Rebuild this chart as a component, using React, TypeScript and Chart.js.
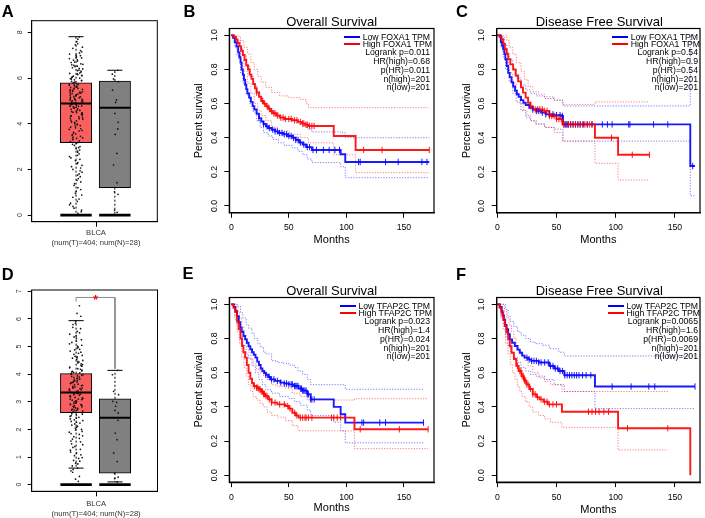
import React, { useEffect, useRef } from "react";
import { Chart, registerables } from "chart.js";

Chart.register(...registerables);

const FONT = '"Liberation Sans", Arial, Helvetica, sans-serif';
const W = 705;
const H = 518;

type Pt = [number, number];

// ================= Box plots (A: FOXA1, D: TFAP2C) =================
// stats: [lower whisker, Q1, median, Q3, upper whisker]
const A_TUMOR_STATS = [0, 3.17, 4.89, 5.79, 7.81];
const A_NORMAL_STATS = [0, 1.2, 4.7, 5.87, 6.34];
const D_TUMOR_STATS = [0.6, 2.61, 3.34, 4.02, 5.94];
const D_NORMAL_STATS = [0.1, 0.42, 2.42, 3.11, 4.14];

const A_TUMOR_POINTS = [
  7.8, 7.6, 7.45, 7.3, 7.2, 7.1, 7.0, 6.95, 6.9, 6.85, 6.8, 6.75, 6.7, 6.62, 6.55, 6.5, 6.45, 6.4, 6.35, 6.3,
  6.25, 6.2, 6.15, 6.1, 6.05, 6.0, 5.95, 5.9, 5.85, 5.8, 5.75, 5.7, 5.66, 5.62, 5.58, 5.55, 5.5, 5.46, 5.42,
  5.38, 5.34, 5.3, 5.26, 5.22, 5.18, 5.14, 5.1, 5.06, 5.02, 4.98, 4.94, 4.9, 4.86, 4.82, 4.78, 4.74, 4.7,
  4.65, 4.6, 4.55, 4.5, 4.45, 4.4, 4.35, 4.3, 4.25, 4.2, 4.12, 4.05, 3.98, 3.9, 3.82, 3.75, 3.68, 3.6, 3.52,
  3.45, 3.38, 3.3, 3.22, 3.15, 3.05, 2.95, 2.85, 2.75, 2.62, 2.5, 2.38, 2.25, 2.12, 2.0, 1.88, 1.75, 1.6,
  1.45, 1.3, 1.12, 0.95, 0.78, 0.6, 0.45, 0.3, 0.15, 6.58, 6.12, 5.72, 5.36, 5.04, 4.76, 4.48, 3.96, 3.36,
  7.7, 7.5, 7.35, 7.15, 7.05, 6.98, 6.88, 6.78, 6.68, 6.6, 6.52, 6.42, 6.32, 6.22, 6.18, 6.08, 6.02, 5.98,
  5.92, 5.88, 5.82, 5.78, 5.73, 5.68, 5.64, 5.6, 5.56, 5.52, 5.48, 5.44, 5.4, 5.36, 5.32, 5.28, 5.24, 5.2,
  5.16, 5.12, 5.08, 5.04, 5.0, 4.96, 4.92, 4.88, 4.84, 4.8, 4.76, 4.72, 4.68, 4.63, 4.58, 4.53, 4.48, 4.43,
  4.38, 4.33, 4.28, 4.22, 4.16, 4.08, 4.0, 3.92, 3.85, 3.78, 3.7, 3.62, 3.55, 3.48, 3.4, 3.32, 3.25, 3.18,
  3.1, 3.0, 2.9, 2.8, 2.68, 2.56, 2.44, 2.3, 2.18, 2.06, 1.94, 1.8, 1.68, 1.52, 1.38, 1.2, 1.05, 0.88, 0.7,
  0.52, 0.38, 0.22, 0.08,
];
const A_NORMAL_POINTS = [6.34, 6.17, 5.96, 5.84, 5.47, 5.04, 4.93, 4.45, 4.06, 3.77, 3.53, 2.7, 2.19, 1.42, 1.02, 0.91, 0.22, 0.12];

const D_TUMOR_POINTS = [
  6.48, 6.2, 5.93, 5.8, 5.65, 5.5, 5.4, 5.3, 5.2, 5.1, 5.02, 4.95, 4.88, 4.8, 4.72, 4.65, 4.58, 4.5, 4.44,
  4.38, 4.32, 4.26, 4.2, 4.15, 4.1, 4.05, 4.0, 3.96, 3.92, 3.88, 3.84, 3.8, 3.76, 3.72, 3.68, 3.64, 3.6,
  3.56, 3.52, 3.48, 3.44, 3.4, 3.36, 3.32, 3.28, 3.24, 3.2, 3.16, 3.12, 3.08, 3.04, 3.0, 2.96, 2.92, 2.88,
  2.84, 2.8, 2.76, 2.72, 2.68, 2.64, 2.6, 2.55, 2.5, 2.44, 2.38, 2.32, 2.26, 2.2, 2.12, 2.05, 1.98, 1.9,
  1.82, 1.74, 1.65, 1.55, 1.45, 1.35, 1.25, 1.15, 1.05, 0.95, 0.85, 0.75, 0.6, 0.5, 0.2, 4.62, 4.08, 3.7,
  3.5, 3.3, 3.1, 2.9, 2.7,
  6.1, 5.85, 5.7, 5.55, 5.45, 5.35, 5.25, 5.15, 5.05, 4.98, 4.9, 4.84, 4.76, 4.68, 4.6, 4.54, 4.47, 4.41,
  4.35, 4.29, 4.23, 4.18, 4.12, 4.07, 4.02, 3.98, 3.94, 3.9, 3.86, 3.82, 3.78, 3.74, 3.7, 3.66, 3.62, 3.58,
  3.54, 3.5, 3.46, 3.42, 3.38, 3.34, 3.3, 3.26, 3.22, 3.18, 3.14, 3.1, 3.06, 3.02, 2.98, 2.94, 2.9, 2.86,
  2.82, 2.78, 2.74, 2.7, 2.66, 2.62, 2.57, 2.52, 2.47, 2.41, 2.35, 2.29, 2.23, 2.16, 2.08, 2.0, 1.93, 1.85,
  1.77, 1.68, 1.58, 1.48, 1.38, 1.28, 1.18, 1.08, 0.98, 0.88, 0.78, 0.68, 0.55, 0.45, 0.3, 0.12,
];
const D_NORMAL_POINTS = [4.14, 3.98, 3.38, 3.26, 3.02, 2.98, 2.84, 2.69, 2.6, 2.33, 1.87, 1.63, 1.15, 0.84, 0.42, 0.27, 0.22, 0.1];

const BOX_LABEL = ["BLCA", "(num(T)=404; num(N)=28)"];
const A_YTICKS = [0, 2, 4, 6, 8];
const D_YTICKS = [0, 1, 2, 3, 4, 5, 6, 7];

// ================= Kaplan-Meier data =================
// B: FOXA1 overall survival
const B_HIGH: Pt[] = [[0,1],[2,0.99],[4,0.975],[5.5,0.955],[7,0.935],[8.5,0.91],[10,0.885],[11.5,0.855],[13,0.825],[14.5,0.8],[16,0.77],[17.5,0.745],[19,0.715],[20.5,0.69],[22,0.665],[24,0.64],[26,0.615],[28,0.6],[30,0.585],[32,0.57],[34,0.555],[36,0.543],[39,0.53],[42,0.518],[46,0.51],[53,0.502],[58,0.493],[61,0.484],[64,0.476],[67,0.469],[89,0.41],[108,0.328],[172,0.328]];
const B_HIGH_UP: Pt[] = [[0,1],[5,0.995],[8,0.97],[11,0.93],[14,0.89],[17,0.84],[20,0.8],[23,0.76],[26,0.725],[30,0.695],[35,0.665],[42,0.645],[50,0.635],[60,0.625],[65,0.6],[67,0.576],[172,0.576]];
const B_HIGH_LO: Pt[] = [[0,1],[3,0.97],[5,0.91],[8,0.85],[11,0.79],[14,0.72],[17,0.66],[20,0.6],[23,0.56],[26,0.53],[30,0.5],[35,0.46],[40,0.44],[50,0.42],[60,0.4],[67,0.37],[89,0.3],[108,0.195],[172,0.195]];
const B_HIGH_CENS = [22,27,29,31,33,35,37,38,40,43,45,47,50,52,55,57,60,62,63,65,66,68,70,72,115,131,172];
const B_LOW: Pt[] = [[0,1],[1.5,0.985],[3,0.96],[4.5,0.935],[6,0.9],[7,0.87],[8,0.84],[9,0.8],[10,0.77],[11,0.74],[12,0.71],[13,0.685],[14,0.66],[15.5,0.635],[17,0.61],[18.5,0.585],[20,0.565],[22,0.54],[24,0.515],[26,0.495],[28,0.48],[30,0.467],[32,0.457],[35,0.447],[38,0.437],[41,0.428],[45,0.42],[49,0.41],[53,0.4],[56,0.387],[59,0.372],[62,0.36],[65,0.345],[70,0.328],[95,0.303],[99,0.258],[172,0.258]];
const B_LOW_UP: Pt[] = [[0,1],[3,0.99],[5,0.97],[8,0.92],[10,0.88],[13,0.82],[16,0.76],[19,0.71],[22,0.67],[25,0.63],[28,0.6],[32,0.57],[36,0.545],[41,0.525],[46,0.51],[53,0.5],[58,0.48],[62,0.465],[66,0.45],[70,0.434],[95,0.43],[99,0.4],[172,0.4]];
const B_LOW_LO: Pt[] = [[0,1],[3,0.93],[5,0.88],[8,0.78],[10,0.72],[13,0.65],[16,0.6],[19,0.55],[22,0.5],[25,0.46],[28,0.43],[32,0.41],[36,0.39],[41,0.37],[46,0.355],[53,0.34],[58,0.32],[62,0.3],[66,0.275],[70,0.254],[95,0.23],[99,0.166],[172,0.166]];
const B_LOW_CENS = [24,28,31,33,36,38,40,42,44,46,48,50,52,54,56,58,60,63,66,68,71,74,80,85,90,94,110.6,112,134,145,165.6,170];
const B_STATS = ["Logrank p=0.011", "HR(high)=0.68", "p(HR)=0.011", "n(high)=201", "n(low)=201"];

// C: FOXA1 disease free survival
const C_HIGH: Pt[] = [[0,1],[2,0.99],[3.6,0.977],[5,0.95],[6.4,0.918],[8,0.89],[9.2,0.86],[11,0.83],[13.4,0.8],[15.5,0.765],[17.6,0.73],[20,0.695],[21.7,0.664],[24,0.635],[26,0.605],[28,0.585],[30,0.566],[38.5,0.557],[44,0.527],[50,0.51],[55,0.478],[82.5,0.4],[102,0.3],[128.5,0.3]];
const C_HIGH_UP: Pt[] = [[0,1],[5,1],[8,0.97],[10,0.93],[13,0.89],[16,0.84],[20,0.79],[23,0.74],[26,0.7],[30,0.67],[35,0.655],[40,0.64],[48,0.62],[55,0.595],[82.5,0.61],[128.5,0.61]];
const C_HIGH_LO: Pt[] = [[0,1],[3,0.96],[5,0.9],[7,0.84],[10,0.78],[13,0.72],[16,0.66],[19,0.6],[22,0.56],[25,0.53],[28,0.5],[32,0.48],[40,0.46],[48,0.43],[55,0.38],[82.5,0.25],[102,0.152],[128.5,0.152]];
const C_HIGH_CENS = [28,32,34,36,38,40,42,44,46,48,50,52,54,56,58,60,62,64,66,68,70,72,74,76,78,80,96.5,114,128.5];
const C_LOW: Pt[] = [[0,1],[3,0.96],[4,0.94],[5,0.918],[6,0.89],[6.8,0.86],[8,0.82],[9.2,0.78],[10.5,0.755],[12,0.725],[13.4,0.7],[15,0.675],[16.5,0.655],[18,0.64],[20,0.62],[22,0.605],[24,0.592],[27,0.576],[30,0.565],[33,0.557],[37,0.547],[41,0.537],[48,0.532],[54,0.527],[55.5,0.478],[163,0.234],[167,0.234]];
const C_LOW_UP: Pt[] = [[0,1],[4,0.99],[6,0.95],[8,0.9],[10,0.86],[13,0.8],[16,0.75],[20,0.71],[24,0.68],[28,0.66],[33,0.645],[40,0.63],[48,0.62],[55.5,0.586],[163,1.0],[167,1.0]];
const C_LOW_LO: Pt[] = [[0,1],[3,0.93],[5,0.87],[7,0.8],[10,0.73],[13,0.66],[16,0.61],[20,0.56],[24,0.52],[28,0.5],[33,0.48],[40,0.46],[48,0.45],[55.5,0.38],[163,0.06],[167,0.06]];
const C_LOW_CENS = [30,33,35,38,41,44,47,50,53,55,57,58,59,60,62,64,66,68,70,73,76,80,88.7,93,97,111,112,132,144,165];
const C_STATS = ["Logrank p=0.54", "HR(high)=0.9", "p(HR)=0.54", "n(high)=201", "n(low)=201"];

// E: TFAP2C overall survival
const E_HIGH: Pt[] = [[0,1],[2,0.98],[3.5,0.955],[5,0.9],[6.4,0.854],[8,0.8],[9.3,0.756],[10.5,0.72],[12,0.688],[13.5,0.645],[15,0.6],[16.5,0.565],[18,0.54],[19.4,0.522],[22,0.512],[24,0.503],[26,0.49],[28,0.475],[29.5,0.464],[32,0.445],[35,0.425],[40,0.415],[47,0.405],[50,0.39],[53,0.366],[56,0.35],[58.5,0.337],[107,0.269],[171,0.269]];
const E_HIGH_UP: Pt[] = [[0,1],[3,1],[5,0.96],[7,0.92],[9,0.87],[11,0.82],[13,0.77],[15,0.72],[17,0.68],[19,0.65],[22,0.62],[25,0.6],[28,0.58],[31,0.56],[35,0.53],[40,0.52],[47,0.51],[53,0.48],[60,0.46],[66,0.44],[107,0.448],[171,0.448]];
const E_HIGH_LO: Pt[] = [[0,1],[3,0.91],[5,0.84],[7,0.77],[9,0.69],[11,0.63],[13,0.58],[15,0.53],[17,0.49],[19,0.46],[22,0.44],[25,0.42],[28,0.4],[31,0.37],[35,0.35],[40,0.34],[47,0.32],[53,0.29],[58,0.26],[107,0.156],[171,0.156]];
const E_HIGH_CENS = [20,22,23,24,25,26,27,28,29,30,31,33,35,38,42,46,49,51,55,57,60,62,64,65,67,70,87,89,92,95,112,146,171];
const E_LOW: Pt[] = [[0,1],[2,0.985],[3.5,0.96],[5,0.93],[6.5,0.895],[7.8,0.864],[9,0.84],[10.5,0.815],[12,0.795],[13.5,0.775],[15,0.755],[16.5,0.737],[18,0.72],[19.5,0.705],[21,0.688],[22.5,0.665],[24,0.645],[25.5,0.625],[27,0.61],[28.5,0.598],[30,0.588],[32,0.575],[34,0.561],[38,0.552],[42.6,0.542],[46,0.537],[50,0.532],[54,0.522],[58.5,0.507],[62,0.495],[66,0.474],[69,0.444],[89,0.4],[95,0.357],[99,0.308],[167,0.308]];
const E_LOW_UP: Pt[] = [[0,1],[5,0.99],[8,0.95],[10,0.92],[13,0.88],[15,0.86],[18,0.83],[20,0.8],[23,0.77],[25,0.75],[28,0.72],[30,0.71],[35,0.67],[40,0.66],[45,0.655],[50,0.645],[55,0.63],[58,0.61],[62,0.59],[66,0.56],[69,0.53],[99,0.503],[167,0.503]];
const E_LOW_LO: Pt[] = [[0,1],[3,0.93],[5,0.88],[8,0.8],[10,0.76],[13,0.71],[15,0.68],[18,0.64],[21,0.6],[24,0.56],[27,0.53],[30,0.5],[35,0.48],[42,0.46],[50,0.45],[55,0.43],[60,0.41],[66,0.38],[69,0.35],[89,0.31],[95,0.26],[99,0.19],[167,0.19]];
const E_LOW_CENS = [30,33,35,37,40,43,46,48,50,52,53,55,56,57,58,60,61,62,63,64,65,66,67,69,70,72,113.5,115,129,134,167];
const E_STATS = ["Logrank p=0.023", "HR(high)=1.4", "p(HR)=0.024", "n(high)=201", "n(low)=201"];

// F: TFAP2C disease free survival
const F_HIGH: Pt[] = [[0,1],[2,0.98],[3.6,0.95],[5,0.91],[6.4,0.873],[7.8,0.835],[9.2,0.795],[10.6,0.755],[12,0.717],[14,0.68],[16,0.64],[18,0.61],[20.4,0.58],[22.5,0.555],[24.5,0.532],[27,0.505],[30,0.474],[33,0.457],[35.7,0.444],[39,0.43],[42.7,0.415],[54.6,0.372],[102,0.275],[163,0.0]];
const F_HIGH_UP: Pt[] = [[0,1],[4,1],[6,0.96],[8,0.92],[10,0.88],[12,0.84],[14,0.8],[16,0.76],[18,0.73],[20,0.7],[23,0.67],[26,0.64],[30,0.6],[35,0.57],[40,0.55],[45,0.53],[54.6,0.49],[144,0.49]];
const F_HIGH_LO: Pt[] = [[0,1],[3,0.92],[5,0.85],[7,0.77],[9,0.71],[11,0.65],[13,0.6],[15,0.56],[17,0.52],[19,0.49],[21,0.46],[24,0.43],[27,0.4],[30,0.37],[35,0.35],[40,0.33],[45,0.31],[54.6,0.28],[102,0.148],[144,0.148]];
const F_HIGH_CENS = [17,19,20,21,22,23,24,25,26,28,30,32,34,37,40,42,44,47,50,77,80,83,86,90,94,110,144];
const F_LOW: Pt[] = [[0,1],[2,0.985],[3.6,0.96],[4.5,0.935],[5.6,0.91],[6.7,0.88],[7.8,0.854],[9.2,0.825],[10.6,0.795],[12.5,0.775],[14.8,0.756],[17,0.735],[19,0.717],[21,0.7],[23,0.688],[26,0.678],[28.7,0.669],[35,0.66],[44,0.639],[48,0.625],[52,0.61],[56.6,0.585],[82.5,0.519],[167,0.519]];
const F_LOW_UP: Pt[] = [[0,1],[5,1],[7,0.97],[9,0.93],[11,0.9],[14,0.87],[17,0.84],[20,0.82],[24,0.8],[28,0.78],[32,0.77],[38,0.76],[44,0.74],[52,0.72],[56.6,0.698],[167,0.698]];
const F_LOW_LO: Pt[] = [[0,1],[3,0.93],[5,0.88],[7,0.81],[9,0.76],[11,0.72],[14,0.69],[17,0.66],[20,0.63],[24,0.61],[28,0.59],[33,0.58],[40,0.56],[48,0.53],[56.6,0.49],[82.5,0.39],[167,0.39]];
const F_LOW_CENS = [25,27,29,31,33,35,37,40,43,45,47,49,51,53,55,57,59,61,63,65,67,69,72,75,79,97,113,128,133,167];
const F_STATS = ["Logrank p=0.0065", "HR(high)=1.6", "p(HR)=0.0069", "n(high)=201", "n(low)=201"];

const KM_XTICKS = [0, 50, 100, 150];
const KM_YTICKS = [0, 0.2, 0.4, 0.6, 0.8, 1.0];

// ================= styles =================
const BLUE = "rgba(0,0,255,0.9)";
const RED = "rgba(255,0,0,0.9)";
const BLUE_CI = "rgba(40,40,255,0.6)";
const RED_CI = "rgba(255,40,40,0.6)";
const BOX_FILL = ["#F95F5F", "#808080"];
const BOX_X = [0.353, 0.662];
const BOX_HALF = 0.125;
const CAP_HALF = 0.06;
const JIT_W = [0.055, 0.033];

// deterministic horizontal jitter (position only, in [-1, 1])
const jit = (i: number) => {
  const s = Math.sin(i * 12.9898 + 78.233) * 43758.5453;
  return (s - Math.floor(s)) * 2 - 1;
};
const xy = (pts: Pt[]) => pts.map(([x, y]) => ({ x, y }));
const survAt = (curve: Pt[], t: number) => {
  let v = curve[0][1];
  for (const [x, y] of curve) if (x <= t) v = y;
  return v;
};
const seg = (x1: number, y1: number, x2: number, y2: number) => [
  { x: x1, y: y1 },
  { x: x2, y: y2 },
  { x: x2, y: null as any },
];

function framePlugin(opt: { off: number; size: number; color: string; lw: number; fmt: (v: number) => string; star?: [number, number] }) {
  return {
    id: "frameAndY",
    afterDraw(chart: any) {
      const { ctx, chartArea: a } = chart;
      ctx.save();
      ctx.strokeStyle = "#000";
      ctx.lineWidth = opt.lw;
      ctx.strokeRect(a.left, a.top, a.right - a.left, a.bottom - a.top);
      const ys = chart.scales.y;
      ctx.fillStyle = opt.color;
      ctx.font = `${opt.size}px ${FONT}`;
      ctx.textAlign = "center";
      ctx.textBaseline = "middle";
      ys.ticks.forEach((t: any) => {
        const py = ys.getPixelForValue(t.value);
        ctx.save();
        ctx.translate(a.left - opt.off, py);
        ctx.rotate(-Math.PI / 2);
        ctx.fillText(opt.fmt(t.value), 0, 0);
        ctx.restore();
      });
      if (opt.star) {
        const xs = chart.scales.x;
        ctx.fillStyle = "#FF0000";
        ctx.font = `bold 12px ${FONT}`;
        ctx.textBaseline = "alphabetic";
        ctx.fillText("*", xs.getPixelForValue(opt.star[0]), ys.getPixelForValue(opt.star[1]) + 7);
      }
      ctx.restore();
    },
  };
}

interface KMSpec {
  w: number; h: number;
  l: number; t: number; r: number; b: number;
  xmin: number; xmax: number;
  yTitlePad: number; xTitlePad: number;
  high: Pt[]; highUp: Pt[]; highLo: Pt[]; highCens: number[];
  low: Pt[]; lowUp: Pt[]; lowLo: Pt[]; lowCens: number[];
}

function kmConfig(s: KMSpec): any {
  const line = (pts: Pt[], color: string, order: number) => ({
    data: xy(pts), showLine: true, stepped: "before", borderColor: color, borderWidth: 1.9, pointRadius: 0, order,
  });
  const ci = (pts: Pt[], color: string) => ({
    data: xy(pts), showLine: true, stepped: "before", borderColor: color, borderWidth: 1, borderDash: [1.2, 1.5], pointRadius: 0, order: 5,
  });
  const cens = (curve: Pt[], times: number[], color: string) => ({
    data: times.map((t) => ({ x: t, y: survAt(curve, t) })),
    showLine: false, pointStyle: "line", pointRotation: 90, pointRadius: 3.2,
    pointBorderColor: color, pointBackgroundColor: color, pointBorderWidth: 1, order: 0,
  });
  const tickFont = { family: FONT, size: 8.7 };
  return {
    type: "scatter",
    data: {
      datasets: [
        line(s.high, RED, 1),
        line(s.low, BLUE, 2),
        cens(s.high, s.highCens, RED),
        cens(s.low, s.lowCens, BLUE),
        ci(s.highUp, RED_CI),
        ci(s.highLo, RED_CI),
        ci(s.lowUp, BLUE_CI),
        ci(s.lowLo, BLUE_CI),
      ],
    },
    options: {
      animation: false, responsive: false, events: [],
      layout: { padding: { top: s.t, right: s.w - s.r, left: 0, bottom: 0 } },
      plugins: { legend: { display: false }, tooltip: { enabled: false } },
      scales: {
        x: {
          type: "linear", min: s.xmin, max: s.xmax, offset: false,
          afterBuildTicks: (sc: any) => { sc.ticks = KM_XTICKS.map((v) => ({ value: v })); },
          afterFit: (sc: any) => { sc.height = s.h - s.b; },
          ticks: { font: tickFont, color: "#000", padding: 5, maxRotation: 0, autoSkip: false, callback: (v: any) => String(v) },
          grid: { drawOnChartArea: false, drawTicks: true, tickLength: 5, color: "#000", lineWidth: 1, offset: false },
          border: { display: true, color: "#000", width: 1.2 },
          title: { display: true, text: "Months", color: "#000", font: { family: FONT, size: 11 }, padding: { top: 0, bottom: s.xTitlePad } },
        },
        y: {
          type: "linear", min: -0.04, max: 1.04,
          afterBuildTicks: (sc: any) => { sc.ticks = KM_YTICKS.map((v) => ({ value: v })); },
          afterFit: (sc: any) => { sc.width = s.l; },
          ticks: { display: false },
          grid: { drawOnChartArea: false, drawTicks: true, tickLength: 5, color: "#000", lineWidth: 1 },
          border: { display: true, color: "#000", width: 1.2 },
          title: { display: true, text: "Percent survival", color: "#000", font: { family: FONT, size: 10.5 }, padding: { top: s.yTitlePad, bottom: 0 } },
        },
      },
    },
    plugins: [framePlugin({ off: 15, size: 8.7, color: "#000", lw: 1.2, fmt: (v) => v.toFixed(1) })],
  };
}

interface BoxSpec {
  w: number; h: number;
  l: number; t: number; r: number; b: number;
  ymin: number; ymax: number; yticks: number[];
  stats: number[][]; points: number[][];
  xpad: number; yoff: number;
  bracket?: boolean;
}

function boxConfig(s: BoxSpec): any {
  const datasets: any[] = [];
  s.points.forEach((vals, k) => {
    datasets.push({
      data: vals.map((v, i) => ({ x: BOX_X[k] + jit(i + 1 + k * 500) * JIT_W[k], y: v })),
      showLine: false, pointRadius: 0.85, pointBackgroundColor: "#111", pointBorderWidth: 0, order: 0,
    });
  });
  const med: any[] = [], zero: any[] = [], whisk: any[] = [], caps: any[] = [];
  s.stats.forEach(([mn, q1, md, q3, mx], k) => {
    const c = BOX_X[k];
    med.push(...seg(c - BOX_HALF, md, c + BOX_HALF, md));
    zero.push(...seg(c - BOX_HALF, 0, c + BOX_HALF, 0));
    whisk.push(...seg(c, q3, c, mx), ...seg(c, q1, c, mn));
    caps.push(...seg(c - CAP_HALF, mx, c + CAP_HALF, mx), ...seg(c - CAP_HALF, mn, c + CAP_HALF, mn));
  });
  datasets.push({ data: med, showLine: true, borderColor: "#000", borderWidth: 2, pointRadius: 0, order: 1 });
  datasets.push({ data: zero, showLine: true, borderColor: "#000", borderWidth: 2.6, pointRadius: 0, order: 1 });
  datasets.push({ data: caps, showLine: true, borderColor: "#000", borderWidth: 1, pointRadius: 0, order: 2 });
  datasets.push({ data: whisk, showLine: true, borderColor: "#000", borderWidth: 1, borderDash: [2, 2], pointRadius: 0, order: 2 });
  if (s.bracket) {
    datasets.push({
      data: [{ x: BOX_X[0], y: 6.63 }, { x: BOX_X[0], y: 6.78 }, { x: BOX_X[1], y: 6.78 }, { x: BOX_X[1], y: 4.2 }],
      showLine: true, borderColor: "#888", borderWidth: 1, pointRadius: 0, order: 2,
    });
  }
  datasets.push({
    type: "bar",
    data: s.stats.map((st, k) => ({ x: BOX_X[k], y: [st[1], st[3]] })),
    backgroundColor: BOX_FILL, borderColor: "#000", borderWidth: 1, borderSkipped: false,
    barThickness: 31.4, grouped: false, order: 6,
  });
  return {
    type: "scatter",
    data: { datasets },
    options: {
      animation: false, responsive: false, events: [],
      layout: { padding: { top: s.t, right: s.w - s.r, left: 0, bottom: 0 } },
      plugins: { legend: { display: false }, tooltip: { enabled: false } },
      scales: {
        x: {
          type: "linear", min: 0, max: 1, offset: false,
          afterBuildTicks: (sc: any) => { sc.ticks = [{ value: 0.512 }]; },
          afterFit: (sc: any) => { sc.height = s.h - s.b; },
          ticks: { font: { family: FONT, size: 7.6, lineHeight: 1.3 }, color: "#333", padding: s.xpad, maxRotation: 0, autoSkip: false, callback: () => BOX_LABEL },
          grid: { drawOnChartArea: false, drawTicks: true, tickLength: 5, color: "#000", lineWidth: 1, offset: false },
          border: { display: true, color: "#000", width: 1 },
        },
        y: {
          type: "linear", min: s.ymin, max: s.ymax,
          afterBuildTicks: (sc: any) => { sc.ticks = s.yticks.map((v) => ({ value: v })); },
          afterFit: (sc: any) => { sc.width = s.l; },
          ticks: { display: false },
          grid: { drawOnChartArea: false, drawTicks: true, tickLength: 4, color: "#000", lineWidth: 1 },
          border: { display: true, color: "#000", width: 1 },
        },
      },
    },
    plugins: [framePlugin({ off: s.yoff, size: 7, color: "#333", lw: 1, fmt: (v) => String(v), star: s.bracket ? [0.507, 6.78] : undefined })],
  };
}

function ChartCanvas({ left, top, width, height, config }: { left: number; top: number; width: number; height: number; config: () => any }) {
  const ref = useRef<HTMLCanvasElement>(null);
  useEffect(() => {
    const chart = new Chart(ref.current as HTMLCanvasElement, config());
    return () => chart.destroy();
  }, []);
  return <canvas ref={ref} width={width} height={height} style={{ position: "absolute", left, top, width, height }} />;
}

function Txt({ x, y, size, text, anchor = "start", bold = false }: { x: number; y: number; size: number; text: string; anchor?: string; bold?: boolean }) {
  const tx = anchor === "middle" ? "-50%" : anchor === "end" ? "-100%" : "0";
  return (
    <div style={{ position: "absolute", left: x, top: y - 0.8465 * size, fontSize: size, lineHeight: `${size}px`, fontWeight: bold ? 700 : 400, transform: `translateX(${tx})`, whiteSpace: "nowrap" }}>
      {text}
    </div>
  );
}

function KMLegend({ frameR, frameT, gene, stats }: { frameR: number; frameT: number; gene: string; stats: string[] }) {
  const rows = [
    { c: "#0000FF", t: `Low ${gene} TPM` },
    { c: "#FF0000", t: `High ${gene} TPM` },
  ];
  return (
    <>
      <div style={{ position: "absolute", right: W - (frameR - 2), top: frameT + 9 - 3.15, display: "flex", flexDirection: "column", alignItems: "flex-start" }}>
        {rows.map((r) => (
          <div key={r.t} style={{ display: "flex", alignItems: "center", height: 6.3, fontSize: 8.7, lineHeight: "6.3px", whiteSpace: "nowrap" }}>
            <span style={{ display: "inline-block", width: 16, height: 2, background: r.c, marginRight: 2.5 }} />
            <span>{r.t}</span>
          </div>
        ))}
      </div>
      <div style={{ position: "absolute", right: W - (frameR - 4), top: frameT + 24 - 4.3, textAlign: "right", fontSize: 8.7, lineHeight: "8.8px", whiteSpace: "nowrap" }}>
        {stats.map((s) => (
          <div key={s}>{s}</div>
        ))}
      </div>
    </>
  );
}

export default function App() {
  const specB: KMSpec = { w: 262, h: 258, l: 49.3, t: 28.5, r: 254, b: 212.8, xmin: -1.74, xmax: 176.1, yTitlePad: 13, xTitlePad: 11.4,
    high: B_HIGH, highUp: B_HIGH_UP, highLo: B_HIGH_LO, highCens: B_HIGH_CENS, low: B_LOW, lowUp: B_LOW_UP, lowLo: B_LOW_LO, lowCens: B_LOW_CENS };
  const specC: KMSpec = { w: 265, h: 258, l: 56.7, t: 28.5, r: 262, b: 212.8, xmin: -0.5, xmax: 171.2, yTitlePad: 20.4, xTitlePad: 11.4,
    high: C_HIGH, highUp: C_HIGH_UP, highLo: C_HIGH_LO, highCens: C_HIGH_CENS, low: C_LOW, lowUp: C_LOW_UP, lowLo: C_LOW_LO, lowCens: C_LOW_CENS };
  const specE: KMSpec = { w: 262, h: 260, l: 49.3, t: 39.5, r: 254, b: 224.1, xmin: -1.74, xmax: 176.1, yTitlePad: 13, xTitlePad: 3.4,
    high: E_HIGH, highUp: E_HIGH_UP, highLo: E_HIGH_LO, highCens: E_HIGH_CENS, low: E_LOW, lowUp: E_LOW_UP, lowLo: E_LOW_LO, lowCens: E_LOW_CENS };
  const specF: KMSpec = { w: 265, h: 260, l: 56.7, t: 39.5, r: 262, b: 224.1, xmin: -0.5, xmax: 171.2, yTitlePad: 20.4, xTitlePad: 1.7,
    high: F_HIGH, highUp: F_HIGH_UP, highLo: F_HIGH_LO, highCens: F_HIGH_CENS, low: F_LOW, lowUp: F_LOW_UP, lowLo: F_LOW_LO, lowCens: F_LOW_CENS };
  const specA: BoxSpec = { w: 180, h: 258, l: 31.7, t: 20.7, r: 157.3, b: 221.7, ymin: -0.29, ymax: 8.51, yticks: A_YTICKS,
    stats: [A_TUMOR_STATS, A_NORMAL_STATS], points: [A_TUMOR_POINTS, A_NORMAL_POINTS], xpad: 1.4, yoff: 11.7 };
  const specD: BoxSpec = { w: 180, h: 260, l: 31.7, t: 32, r: 157.5, b: 233.3, ymin: -0.24, ymax: 7.05, yticks: D_YTICKS,
    stats: [D_TUMOR_STATS, D_NORMAL_STATS], points: [D_TUMOR_POINTS, D_NORMAL_POINTS], xpad: 2.8, yoff: 12.5, bracket: true };

  return (
    <div style={{ position: "absolute", left: 0, top: 0, width: W, height: H, background: "#fff", color: "#000", fontFamily: FONT, overflow: "hidden" }}>
      <ChartCanvas left={0} top={0} width={180} height={258} config={() => boxConfig(specA)} />
      <ChartCanvas left={180} top={0} width={262} height={258} config={() => kmConfig(specB)} />
      <ChartCanvas left={440} top={0} width={265} height={258} config={() => kmConfig(specC)} />
      <ChartCanvas left={0} top={258} width={180} height={260} config={() => boxConfig(specD)} />
      <ChartCanvas left={180} top={258} width={262} height={260} config={() => kmConfig(specE)} />
      <ChartCanvas left={440} top={258} width={265} height={260} config={() => kmConfig(specF)} />

      <Txt x={1.7} y={16.7} size={16.5} bold text="A" />
      <Txt x={183.5} y={16.7} size={16.5} bold text="B" />
      <Txt x={456} y={16.7} size={16.5} bold text="C" />
      <Txt x={1.7} y={279.7} size={16.5} bold text="D" />
      <Txt x={182.5} y={279.2} size={16.5} bold text="E" />
      <Txt x={456} y={279.5} size={16.5} bold text="F" />

      <Txt x={331.7} y={26} size={13} anchor="middle" text="Overall Survival" />
      <Txt x={599.3} y={26} size={13} anchor="middle" text="Disease Free Survival" />
      <Txt x={331.7} y={295} size={13} anchor="middle" text="Overall Survival" />
      <Txt x={599.3} y={295} size={13} anchor="middle" text="Disease Free Survival" />

      <KMLegend frameR={434} frameT={28.5} gene="FOXA1" stats={B_STATS} />
      <KMLegend frameR={702} frameT={28.5} gene="FOXA1" stats={C_STATS} />
      <KMLegend frameR={434} frameT={297.5} gene="TFAP2C" stats={E_STATS} />
      <KMLegend frameR={702} frameT={297.5} gene="TFAP2C" stats={F_STATS} />
    </div>
  );
}
